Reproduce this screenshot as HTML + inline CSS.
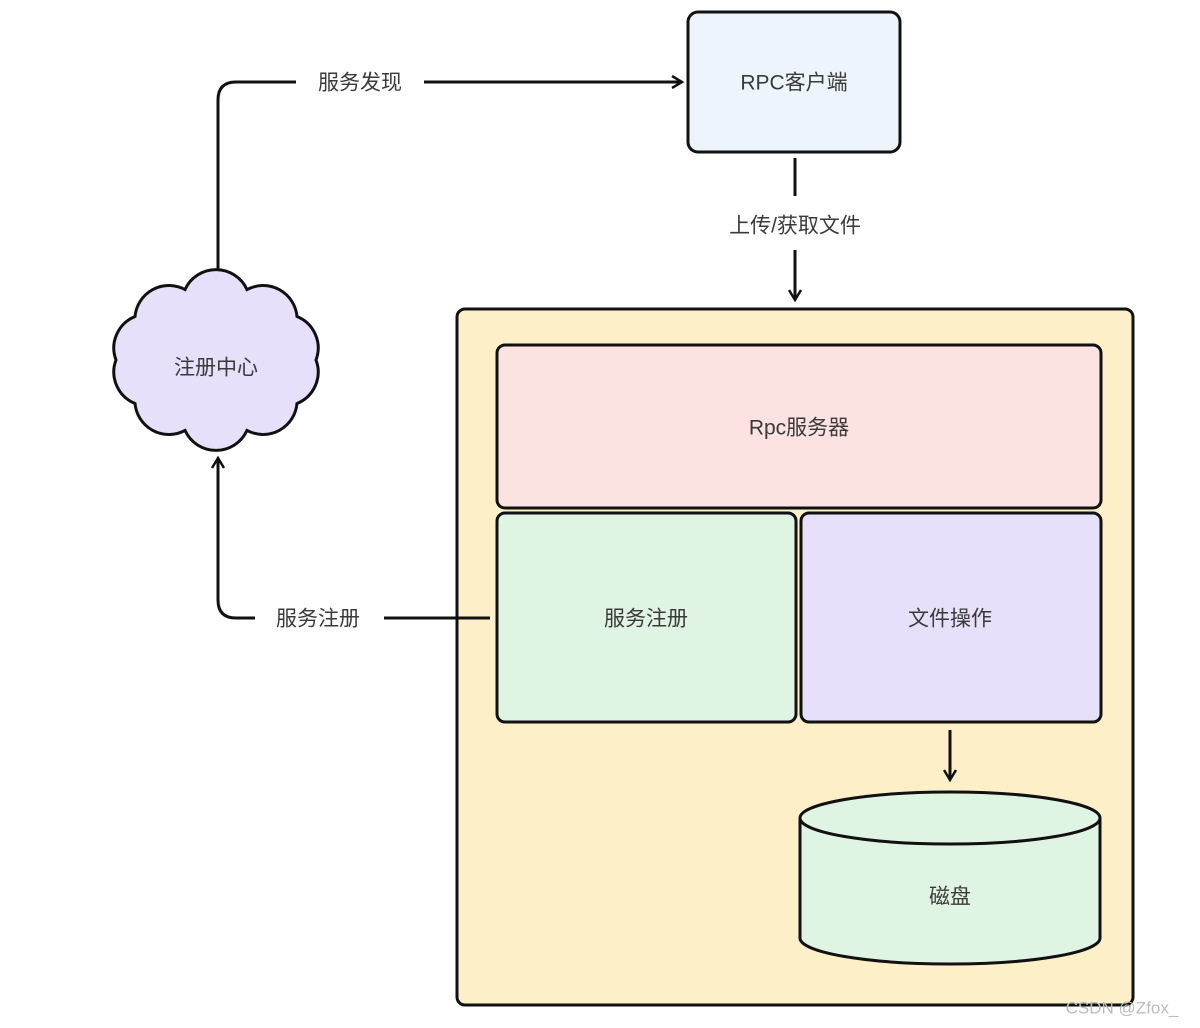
<!DOCTYPE html>
<html><head><meta charset="utf-8"><style>
html,body{margin:0;padding:0;background:#fff;}
svg{display:block;}
text{font-family:"Liberation Sans","Noto Sans CJK SC",sans-serif;font-size:21px;fill:#3a3a3a;text-anchor:middle;dominant-baseline:central;}
</style></head><body>
<svg width="1200" height="1028" viewBox="0 0 1200 1028" xmlns="http://www.w3.org/2000/svg">
<defs><marker id="a" markerWidth="14" markerHeight="14" refX="11" refY="7" orient="auto" markerUnits="userSpaceOnUse"><path d="M1,1 L11,7 L1,13" fill="none" stroke="#111" stroke-width="2.5"/></marker></defs>
<g stroke="#111" stroke-width="3" fill="none">
<rect x="688" y="12" width="212" height="140" rx="10" fill="#eef4fc"/>
<rect x="457" y="309" width="676" height="696" rx="8" fill="#fdf0c8"/>
<rect x="497" y="345" width="604" height="163" rx="8" fill="#fde2e2"/>
<rect x="497" y="513" width="299" height="209" rx="8" fill="#e0f4e3"/>
<rect x="801" y="513" width="300" height="209" rx="8" fill="#e6e0fa"/>
<path d="M800,818 L800,938 A150,26 0 0 0 1100,938 L1100,818" fill="#e0f4e3"/>
<ellipse cx="950" cy="818" rx="150" ry="26" fill="#e0f4e3"/>
<path d="M316,360 A34,34 0 0 0 297,316.5 A34,34 0 0 0 247,289.6 A34,34 0 0 0 185,289.6 A34,34 0 0 0 135,316.5 A34,34 0 0 0 116,360 A34,34 0 0 0 135,403.5 A34,34 0 0 0 185,430.4 A34,34 0 0 0 247,430.4 A34,34 0 0 0 297,403.5 A34,34 0 0 0 316,360 Z" fill="#e6e0fa"/>
<path d="M218,270 L218,100 Q218,82 236,82 L296,82"/>
<path d="M424,82 L682,82" marker-end="url(#a)"/>
<path d="M795,158 L795,196"/>
<path d="M795,250 L795,300" marker-end="url(#a)"/>
<path d="M490,618 L384,618"/>
<path d="M255,618 L236,618 Q218,618 218,600 L218,458" marker-end="url(#a)"/>
<path d="M950,730 L950,780" marker-end="url(#a)"/>
</g>
<text x="794" y="83">RPC客户端</text>
<text x="360" y="83">服务发现</text>
<text x="795" y="226">上传/获取文件</text>
<text x="216" y="368">注册中心</text>
<text x="318" y="619">服务注册</text>
<text x="799" y="428">Rpc服务器</text>
<text x="646" y="619">服务注册</text>
<text x="950" y="619">文件操作</text>
<text x="950" y="897">磁盘</text>
<text x="1122" y="1008" style="font-size:17px;fill:#bbb">CSDN @Zfox_</text>
</svg>
</body></html>
